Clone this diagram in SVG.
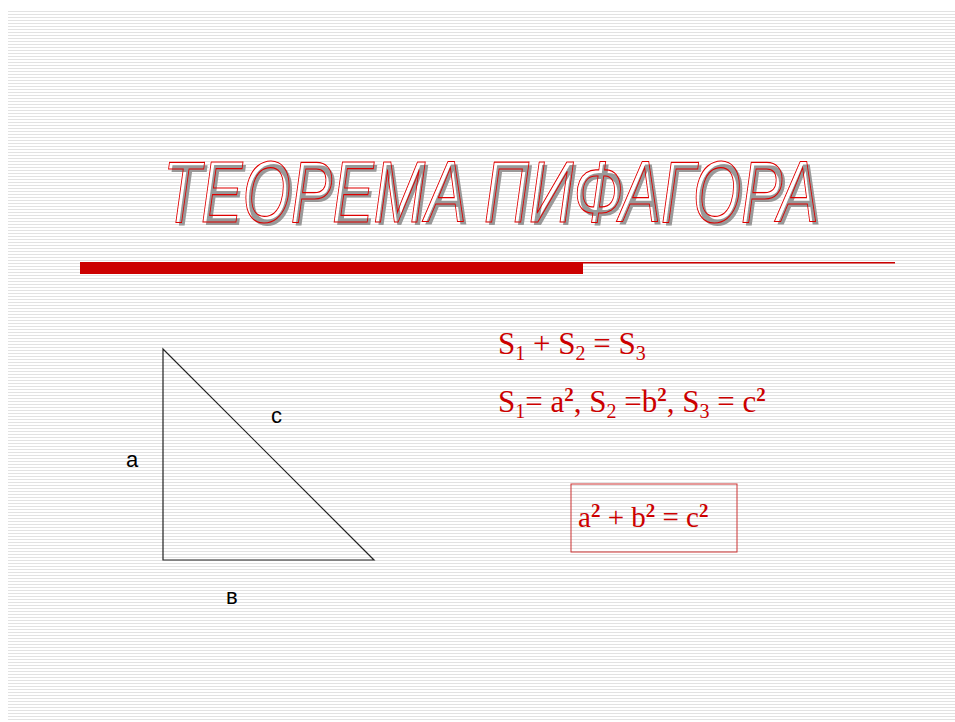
<svg xmlns="http://www.w3.org/2000/svg" width="955" height="722" viewBox="0 0 955 722">
<defs>
<pattern id="stripes" x="0" y="11" width="8" height="3" patternUnits="userSpaceOnUse">
<rect x="0" y="0" width="8" height="1" fill="#e2e2e2"/>
</pattern>
</defs>
<style>
.title{font-family:"Liberation Sans",Arial,sans-serif;font-style:italic;font-size:87px;}
.f{font-family:"Liberation Serif","Times New Roman",serif;fill:#cc0000;}
.sup{font-size:19px;font-weight:bold;}
.lbl{font-family:"Liberation Sans",Arial,sans-serif;font-size:22px;fill:#000;}
</style>
<rect width="955" height="722" fill="#ffffff"/>
<rect x="8" y="11" width="947" height="711" fill="url(#stripes)"/>
<g id="title">
<text class="title" x="162" y="221" textLength="656" lengthAdjust="spacingAndGlyphs" fill="#ffffff">ТЕОРЕМА ПИФАГОРА</text>
<text class="title" x="166" y="225" textLength="656" lengthAdjust="spacingAndGlyphs" fill="#999999">ТЕОРЕМА ПИФАГОРА</text>
<text class="title" x="163" y="222" textLength="656" lengthAdjust="spacingAndGlyphs" fill="none" stroke="#dd0000" stroke-width="1.2">ТЕОРЕМА ПИФАГОРА</text>
</g>
<g id="rule">
<rect x="80" y="262" width="503" height="12" fill="#cc0000"/>
<rect x="583" y="262" width="312" height="1.5" fill="#cc0000"/>
</g>
<g id="triangle">
<polygon points="163,349 163,560 374,560" fill="none" stroke="#222" stroke-width="1.2"/>
<text class="lbl" x="271" y="423">с</text>
<text class="lbl" x="126" y="467">а</text>
<text class="lbl" x="226" y="604">в</text>
</g>
<g id="formula1">
<text class="f" x="498" y="354" font-size="31">S<tspan font-size="20" dy="6">1</tspan><tspan dy="-6"> + S</tspan><tspan font-size="20" dy="6">2</tspan><tspan dy="-6"> = S</tspan><tspan font-size="20" dy="6">3</tspan></text>
</g>
<g id="formula2">
<text class="f" x="498" y="412" font-size="31">S<tspan font-size="20" dy="6">1</tspan><tspan dy="-6">= a</tspan><tspan class="sup" dy="-11">2</tspan><tspan dy="11">, S</tspan><tspan font-size="20" dy="6">2</tspan><tspan dy="-6"> =b</tspan><tspan class="sup" dy="-11">2</tspan><tspan dy="11">, S</tspan><tspan font-size="20" dy="6">3</tspan><tspan dy="-6"> = c</tspan><tspan class="sup" dy="-11">2</tspan></text>
</g>
<g id="result">
<rect x="571" y="484" width="166" height="68" fill="none" stroke="#cc3333" stroke-width="1"/>
<text class="f" x="578" y="527" font-size="29">a<tspan class="sup" dy="-10">2</tspan><tspan dy="10"> + b</tspan><tspan class="sup" dy="-10">2</tspan><tspan dy="10"> = c</tspan><tspan class="sup" dy="-10">2</tspan></text>
</g>
</svg>
